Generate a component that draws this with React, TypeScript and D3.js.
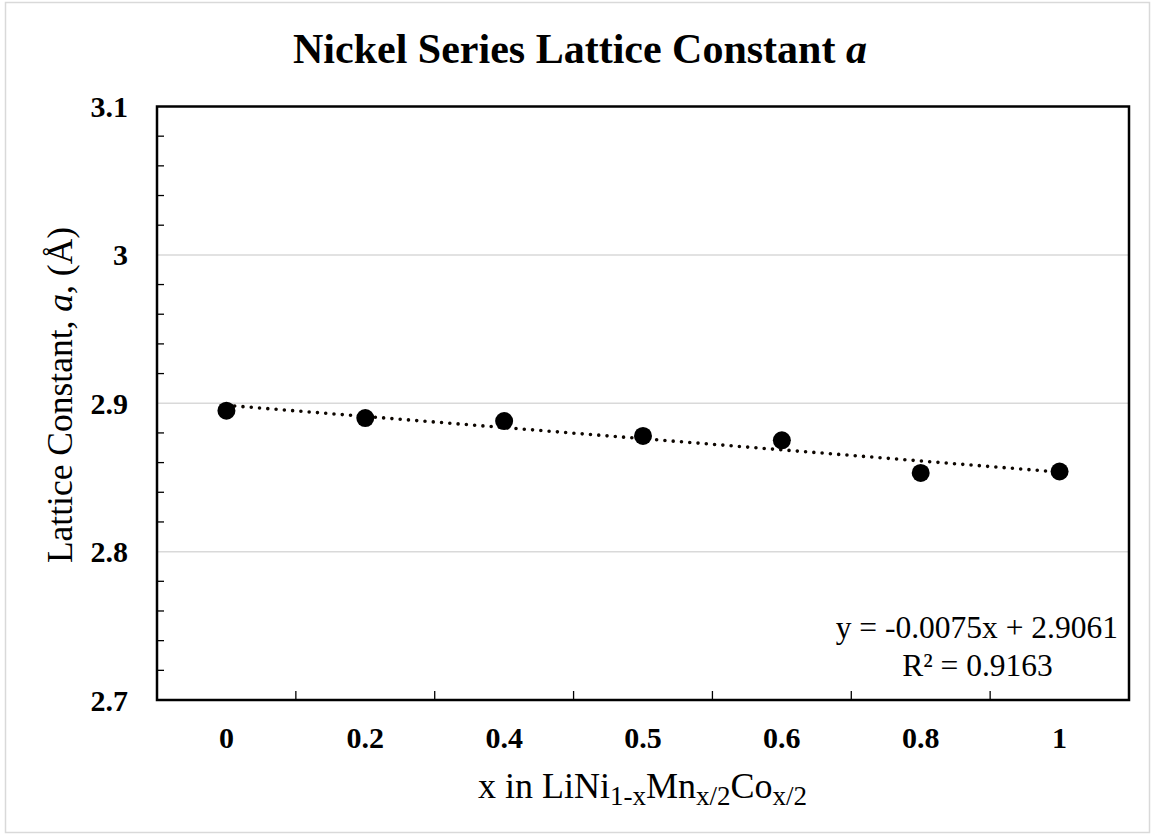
import React from "react";
import * as d3 from "d3";

const categories = ["0", "0.2", "0.4", "0.5", "0.6", "0.8", "1"];
const latticeA = [2.895, 2.89, 2.888, 2.878, 2.875, 2.853, 2.854];
const yTicks = [2.7, 2.8, 2.9, 3.0, 3.1];
const trendSlope = -0.0075;
const trendIntercept = 2.9061;

const W = 1153, H = 836;
const M = { left: 157, right: 1129, top: 106.5, bottom: 700 };
const FONT = "'Liberation Serif', 'Times New Roman', serif";

export default function App() {
  const x = d3.scaleBand<string>().domain(categories).range([M.left, M.right]);
  const cx = (c: string) => (x(c) as number) + x.bandwidth() / 2;
  const y = d3.scaleLinear().domain([2.7, 3.1]).range([M.bottom, M.top]);
  const minor = d3.range(2.72, 3.1, 0.02).filter((v) => Math.abs(Math.round(v * 10) - v * 10) > 1e-6);
  const trendPts: [number, number][] = categories.map((c, i) => [cx(c), y(trendSlope * (i + 1) + trendIntercept)]);
  const line = d3.line();
  const boundaries = categories.slice(1).map((c) => x(c) as number);

  return (
    <svg width={W} height={H} style={{ position: "absolute", left: 0, top: 0, background: "#fff" }}>
      <rect x={5.5} y={2.5} width={1144} height={830} fill="#fff" stroke="#d9d9d9" strokeWidth={1.5} />
      <text x={580} y={63} textAnchor="middle" fontFamily={FONT} fontWeight="bold" fontSize={42}>
        Nickel Series Lattice Constant <tspan fontStyle="italic">a</tspan>
      </text>
      {yTicks.filter((v) => v > 2.7 && v < 3.1).map((v) => (
        <line key={v} x1={M.left} x2={M.right} y1={y(v)} y2={y(v)} stroke="#d9d9d9" strokeWidth={1.5} />
      ))}
      {minor.map((v) => (
        <line key={v} x1={M.left} x2={M.left + 7} y1={y(v)} y2={y(v)} stroke="#000" strokeWidth={1.3} />
      ))}
      {boundaries.map((b) => (
        <line key={b} x1={b} x2={b} y1={M.bottom} y2={M.bottom - 9} stroke="#000" strokeWidth={1.3} />
      ))}
      <rect x={M.left} y={M.top} width={M.right - M.left} height={M.bottom - M.top} fill="none" stroke="#000" strokeWidth={2.5} />
      {yTicks.map((v) => (
        <text key={v} x={M.left - 29} y={y(v) + 10.5} textAnchor="end" fontFamily={FONT} fontWeight="bold" fontSize={30}>
          {v === 3 ? "3" : v.toFixed(1)}
        </text>
      ))}
      {categories.map((c) => (
        <text key={c} x={cx(c)} y={748} textAnchor="middle" fontFamily={FONT} fontWeight="bold" fontSize={30}>
          {c}
        </text>
      ))}
      <path d={line(trendPts) || ""} fill="none" stroke="#0d0600" strokeWidth={3.6} strokeDasharray="0 8.3" strokeLinecap="round" />
      {latticeA.map((v, i) => (
        <circle key={i} cx={cx(categories[i])} cy={y(v)} r={9} fill="#000" />
      ))}
      <text x={1118} y={638} textAnchor="end" fontFamily={FONT} fontSize={31.5}>y = -0.0075x + 2.9061</text>
      <text x={977.5} y={676} textAnchor="middle" fontFamily={FONT} fontSize={31.5}>R² = 0.9163</text>
      <text transform={`translate(72,395) rotate(-90)`} textAnchor="middle" fontFamily={FONT} fontSize={35.5}>
        Lattice Constant, <tspan fontStyle="italic">a</tspan>, (Å)
      </text>
      <text x={642.5} y={798} textAnchor="middle" fontFamily={FONT} fontSize={36}>
        x in LiNi<tspan fontSize={27} dy={7}>1-x</tspan><tspan dy={-7}>Mn</tspan><tspan fontSize={27} dy={7}>x/2</tspan><tspan dy={-7}>Co</tspan><tspan fontSize={27} dy={7}>x/2</tspan>
      </text>
    </svg>
  );
}
